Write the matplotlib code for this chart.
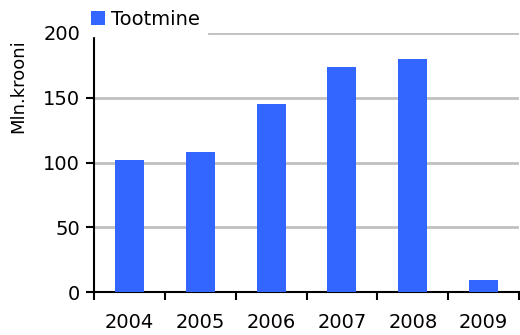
import matplotlib.pyplot as plt

# data
years = ["2004", "2005", "2006", "2007", "2008", "2009"]
tootmine = [102, 108, 145, 174, 180, 9]

plt.rcParams['font.family'] = ['DejaVu Sans']

fig = plt.figure(figsize=(5.2, 3.35), dpi=100)
ax = fig.add_axes([94 / 520, 43 / 335, 425 / 520, 259 / 335])

x = range(len(years))
ax.bar(x, tootmine, width=0.41, color="#3366FF", label="Tootmine", zorder=3)

ax.set_xlim(-0.5, len(years) - 0.5)
ax.set_ylim(0, 200)
ax.set_yticks([0, 50, 100, 150, 200])
ax.set_xticks([i - 0.5 for i in range(len(years) + 1)])
ax.set_xticklabels([])
ax.set_xticks(list(x), minor=True)
ax.set_xticklabels(years, minor=True)
ax.tick_params(axis="x", which="minor", length=0, pad=15, labelsize=14)
ax.tick_params(axis="x", which="major", length=6, width=1.5, direction="out")
ax.tick_params(axis="y", length=6, width=1.5, pad=4, labelsize=14)

ax.yaxis.grid(True, color="#C0C0C0", linewidth=2, zorder=0)
ax.set_axisbelow(True)
for s in ["top", "right"]:
    ax.spines[s].set_visible(False)
for s in ["left", "bottom"]:
    ax.spines[s].set_linewidth(1.5)

ax.set_ylabel("Mln.krooni", fontsize=13)
ax.yaxis.set_label_coords(-0.158, 0.795)

leg = fig.legend(loc="upper left", bbox_to_anchor=(84 / 520, 1 - 3 / 335),
                 fontsize=14, frameon=True, handlelength=0.75, handleheight=0.75,
                 handletextpad=0.3, borderaxespad=0, borderpad=0.35)
leg.get_frame().set_edgecolor("white")
leg.get_frame().set_facecolor("white")
leg.get_frame().set_alpha(1)

fig.savefig("out.png", dpi=100)
